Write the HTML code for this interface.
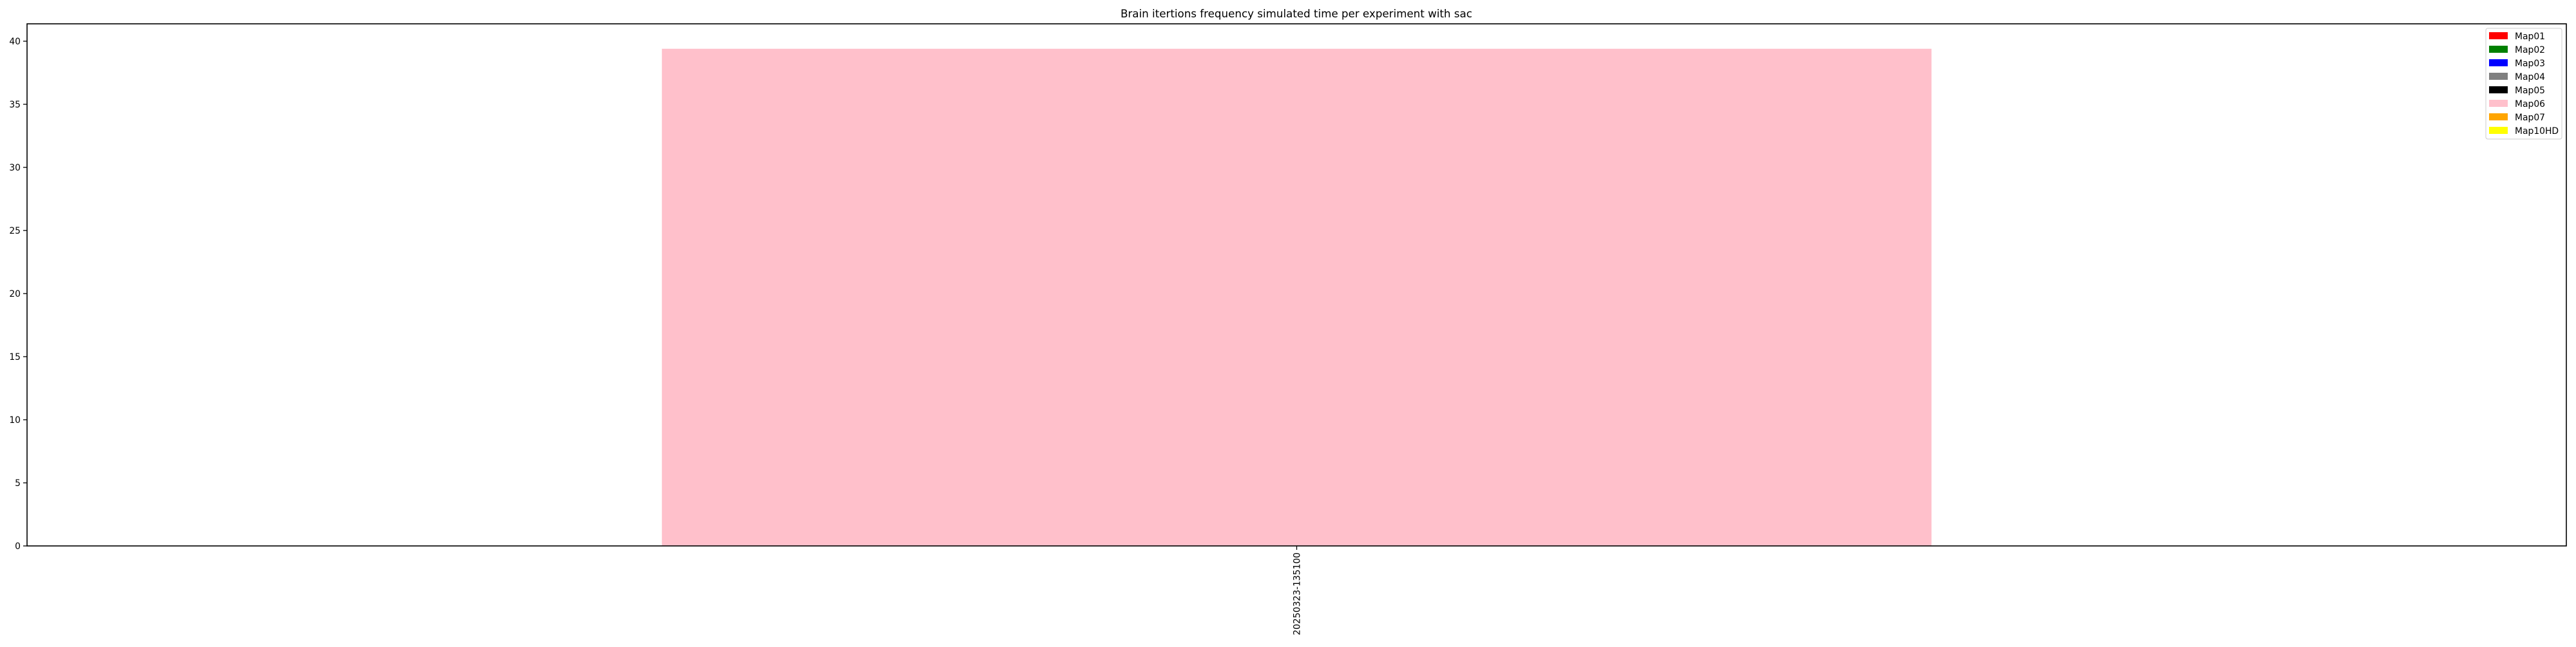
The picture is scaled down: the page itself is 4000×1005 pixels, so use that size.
<!DOCTYPE html>
<html><head><meta charset="utf-8"><style>
body{margin:0;background:#fff}
svg text{font-family:"DejaVu Sans","Liberation Sans",sans-serif;fill:#000}
</style></head><body>
<svg id="chart" width="4000" height="1000" xmlns="http://www.w3.org/2000/svg">
<rect width="4000" height="1000" fill="#fff"/>
<text x="2013" y="27" font-size="16.7" text-anchor="middle">Brain itertions frequency simulated time per experiment with sac</text>
<g id="marks"></g>
<g id="yaxis"></g>
<g id="xaxis"></g>
<rect x="42" y="37" width="3943" height="811" fill="none" stroke="#000" stroke-width="1.6"/>
<g id="legend"></g>
</svg>
<script>
const categories=["20250323-135100"];
const seriesNames=["Map01","Map02","Map03","Map04","Map05","Map06","Map07","Map10HD"];
const seriesColors=["red","green","blue","gray","black","pink","orange","yellow"];
const seriesValues=[[0],[0],[0],[0],[0],[39.4],[0],[0]];
const yTicks=[0,5,10,15,20,25,30,35,40];
const NS="http://www.w3.org/2000/svg";
const L=42,R=3985,T=37,B=848;
const yScale=v=>B-v*19.6;
const xScale=i=>L+(i+0.5)*(R-L)/categories.length;
const bw=0.5*(R-L)/categories.length;
function mk(tag,attrs,parent){const e=document.createElementNS(NS,tag);for(const k in attrs)e.setAttribute(k,attrs[k]);parent.appendChild(e);return e;}
const marks=document.getElementById('marks');
categories.forEach((c,i)=>{let base=0;seriesValues.forEach((s,j)=>{const v=s[i];if(v>0){const r=mk('rect',{x:xScale(i)-bw/2,y:yScale(base+v),width:bw,height:yScale(base)-yScale(base+v),fill:seriesColors[j]},marks);

}base+=v;});});
const ya=document.getElementById('yaxis');
yTicks.forEach(t=>{const y=yScale(t);mk('line',{x1:L-6,x2:L,y1:y,y2:y,stroke:'#000','stroke-width':1.3},ya);
const tx=mk('text',{x:L-10,y:y+5,'font-size':13.9,'text-anchor':'end'},ya);tx.textContent=t;

});
const xa=document.getElementById('xaxis');
categories.forEach((c,i)=>{const x=xScale(i);mk('line',{x1:x,x2:x,y1:B,y2:B+6,stroke:'#000','stroke-width':1.3},xa);
const tx=mk('text',{x:0,y:0,'font-size':13.9,'text-anchor':'end',transform:`translate(${x+5},${B+10}) rotate(-90)`},xa);tx.textContent=c;

});
const lg=document.getElementById('legend');


mk('rect',{x:3860,y:44,width:118,height:172,rx:3,fill:'#fff',stroke:'#ccc','stroke-width':1},lg);
seriesNames.forEach((n,j)=>{const y=56+j*21;const g=mk('g',{},lg);


mk('rect',{x:3865,y:y-6,width:29,height:11,fill:seriesColors[j]},g);
const t=mk('text',{x:3905,y:y+5,'font-size':13.9},g);t.textContent=n;});
</script>
</body></html>
